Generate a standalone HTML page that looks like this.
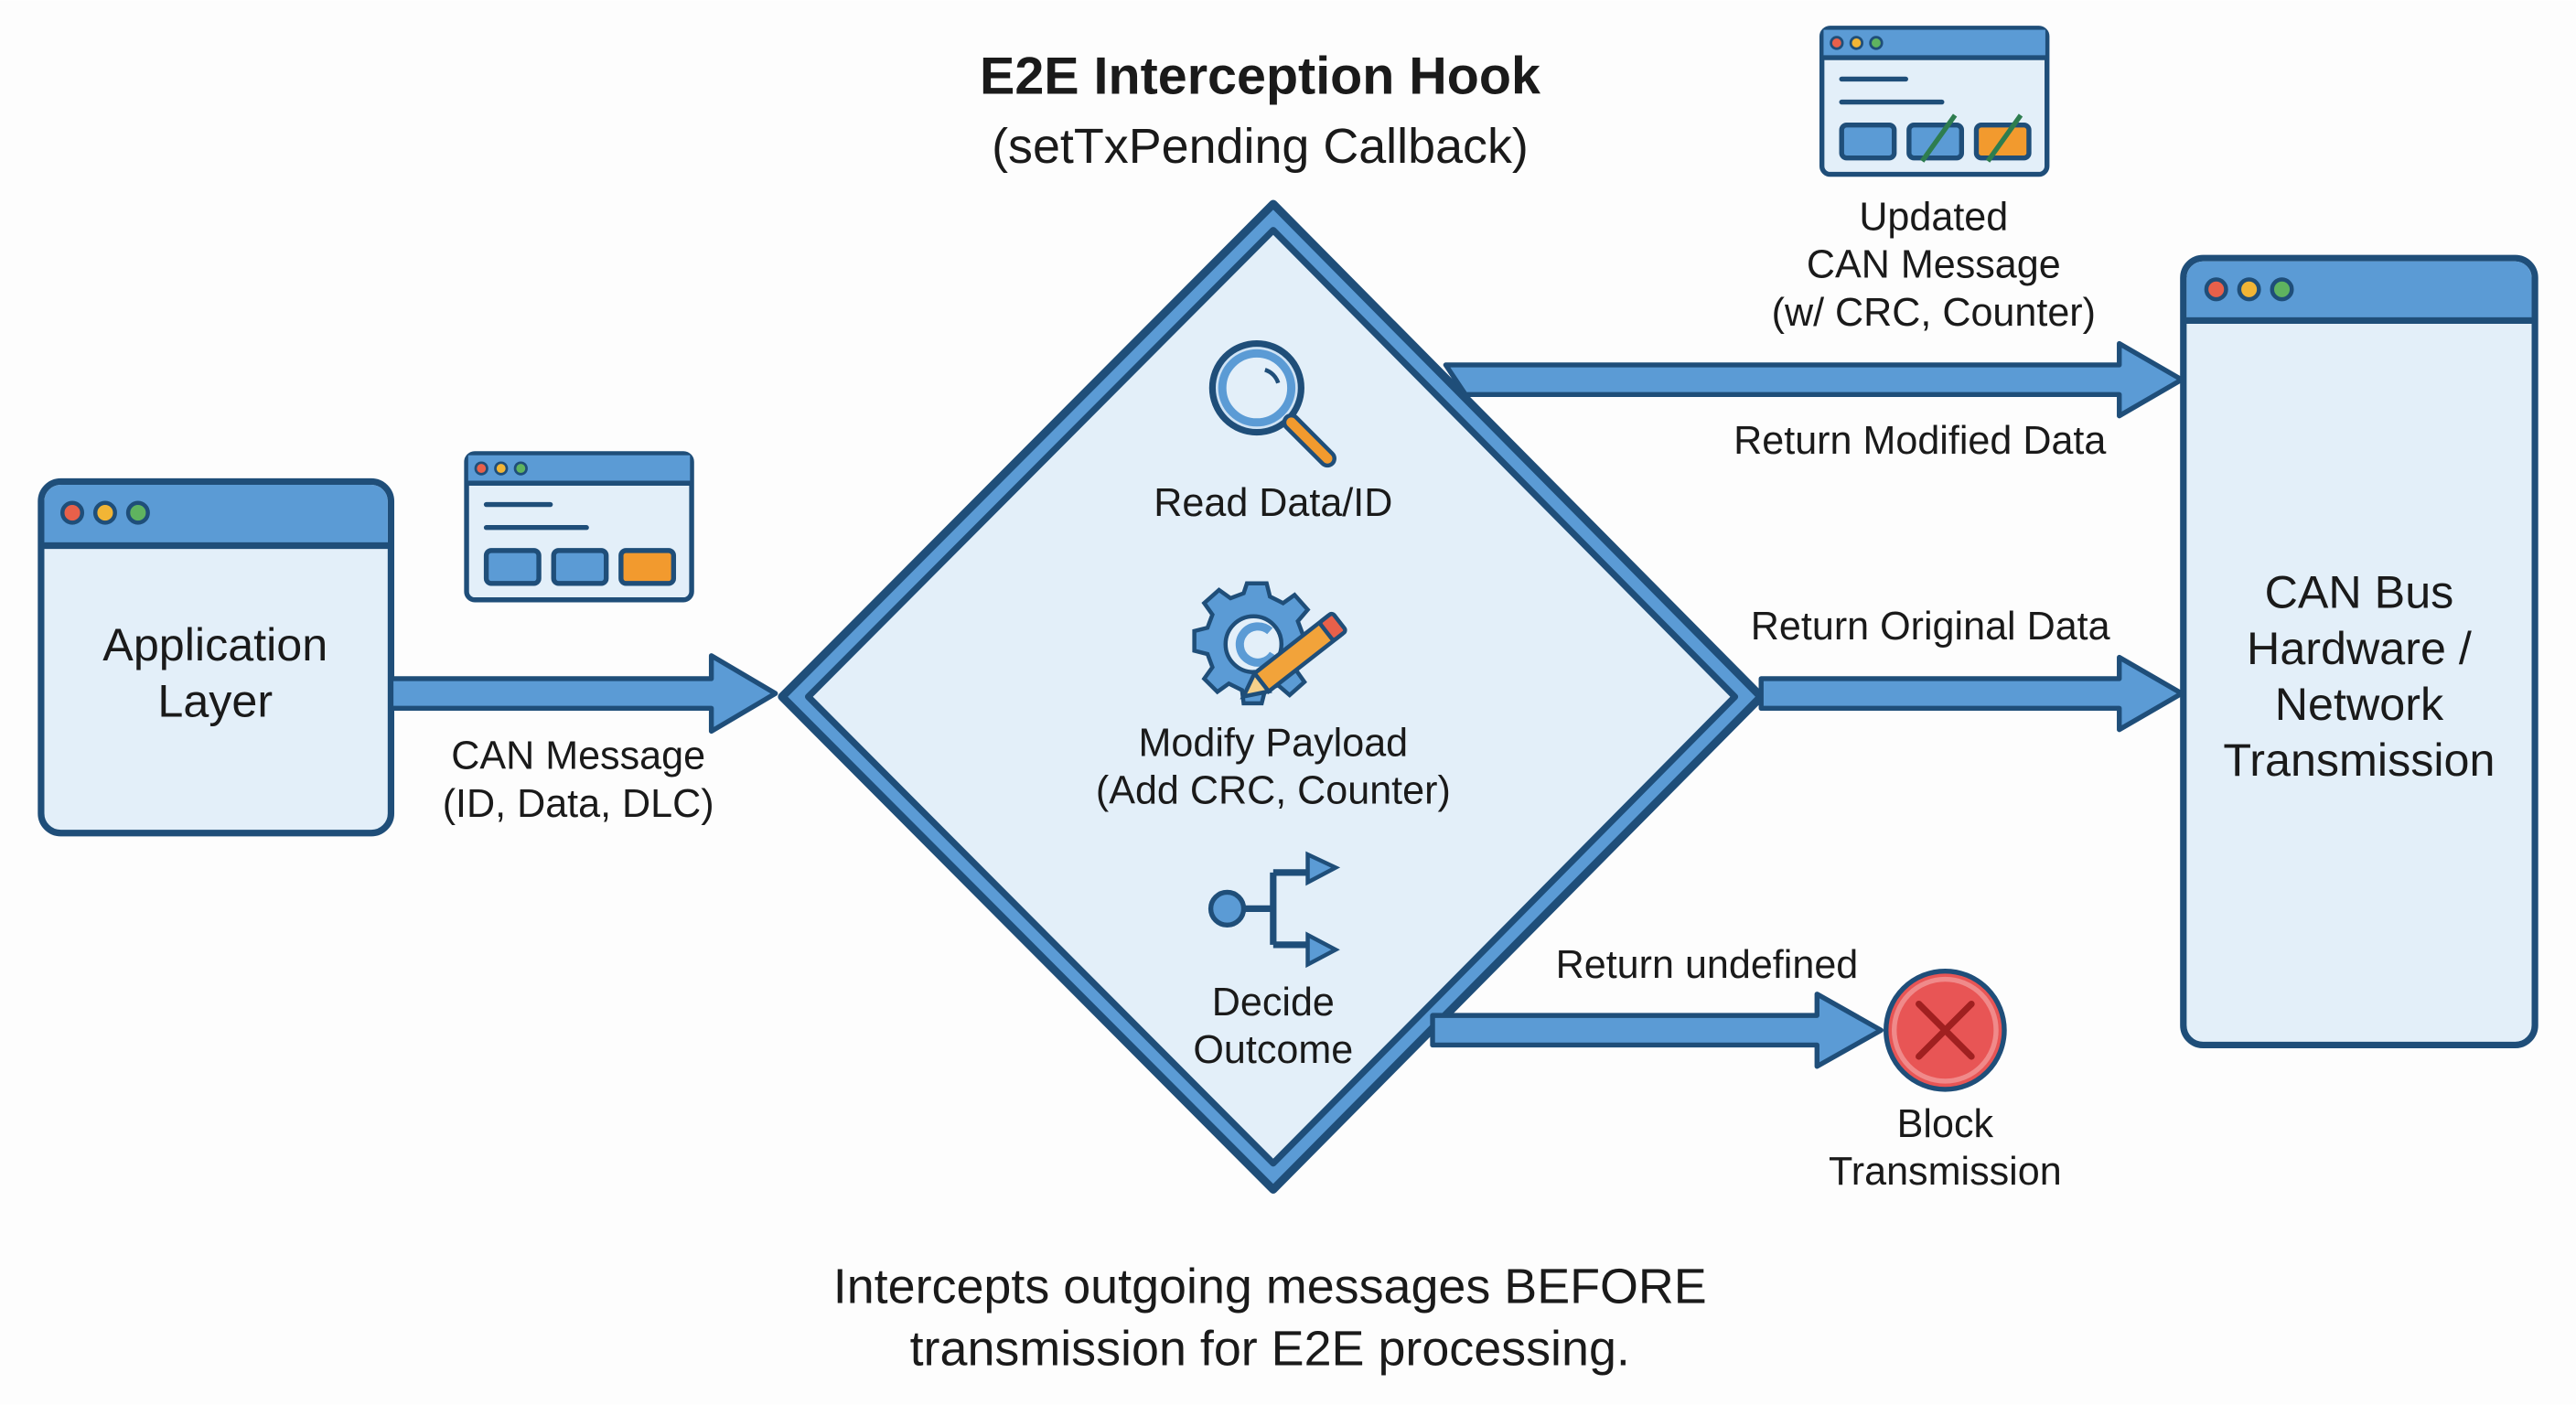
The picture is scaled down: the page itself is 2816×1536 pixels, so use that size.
<!DOCTYPE html>
<html><head><meta charset="utf-8"><style>
html,body{margin:0;padding:0;background:#fff;}
svg{display:block;}
text{font-family:"Liberation Sans",sans-serif;fill:#1a1a1a;}
</style></head><body>
<svg width="2816" height="1536" viewBox="0 0 1568 855" xmlns="http://www.w3.org/2000/svg">
<rect width="1568" height="855" fill="#fdfdfd"/>
<defs>
<g id="dots">
<circle cx="0" cy="0" r="6" fill="#e8604a" stroke="#1f4e79" stroke-width="2.5"/>
<circle cx="20" cy="0" r="6" fill="#f2b535" stroke="#1f4e79" stroke-width="2.5"/>
<circle cx="40" cy="0" r="6" fill="#5fb35f" stroke="#1f4e79" stroke-width="2.5"/>
</g>
</defs>
<!-- Title -->
<text x="767" y="57" font-size="32" font-weight="bold" text-anchor="middle">E2E Interception Hook</text>
<text x="767" y="99" font-size="30" text-anchor="middle">(setTxPending Callback)</text>

<!-- Application Layer box -->
<rect x="25" y="293" width="213" height="214" rx="12" fill="#e3eff9" stroke="#1f4e79" stroke-width="4"/>
<path d="M27 332 V305 a10 10 0 0 1 10 -10 H226 a10 10 0 0 1 10 10 V332 Z" fill="#5b9bd5"/>
<line x1="25" y1="332" x2="238" y2="332" stroke="#1f4e79" stroke-width="4"/>
<use href="#dots" x="44" y="312"/>
<text x="131" y="402" font-size="28" text-anchor="middle">Application</text>
<text x="131" y="436" font-size="28" text-anchor="middle">Layer</text>

<!-- small message icon -->
<rect x="284" y="276" width="137" height="89" rx="5" fill="#e3eff9" stroke="#1f4e79" stroke-width="3"/>
<rect x="285" y="277" width="135" height="17" fill="#5b9bd5"/>
<line x1="284" y1="294" x2="421" y2="294" stroke="#1f4e79" stroke-width="3"/>
<circle cx="293" cy="285" r="3.5" fill="#e8604a" stroke="#1f4e79" stroke-width="1.5"/>
<circle cx="305" cy="285" r="3.5" fill="#f2b535" stroke="#1f4e79" stroke-width="1.5"/>
<circle cx="317" cy="285" r="3.5" fill="#5fb35f" stroke="#1f4e79" stroke-width="1.5"/>
<line x1="296" y1="307" x2="335" y2="307" stroke="#1f4e79" stroke-width="3" stroke-linecap="round"/>
<line x1="296" y1="321" x2="357" y2="321" stroke="#1f4e79" stroke-width="3" stroke-linecap="round"/>
<rect x="296" y="335" width="32" height="20" rx="3" fill="#5b9bd5" stroke="#1f4e79" stroke-width="3"/>
<rect x="337" y="335" width="32" height="20" rx="3" fill="#5b9bd5" stroke="#1f4e79" stroke-width="3"/>
<rect x="378" y="335" width="32" height="20" rx="3" fill="#f29a2e" stroke="#1f4e79" stroke-width="3"/>

<!-- arrow in -->
<polygon points="238,413 433,413 433,399 472,422 433,445 433,431 238,431" fill="#5b9bd5" stroke="#1f4e79" stroke-width="3" stroke-linejoin="round"/>
<text x="352" y="468" font-size="24" text-anchor="middle">CAN Message</text>
<text x="352" y="497" font-size="24" text-anchor="middle">(ID, Data, DLC)</text>

<!-- Diamond -->
<path d="M775 124 L1072 424 L775 724 L476 424 Z" fill="#5b9bd5" stroke="#1f4e79" stroke-width="5" stroke-linejoin="round"/>
<path d="M775 140 L1056 424 L775 708 L492 424 Z" fill="#e3eff9" stroke="#1f4e79" stroke-width="4" stroke-linejoin="round"/>

<!-- magnifier -->
<circle cx="765" cy="236" r="27" fill="#cfe3f5" stroke="#1f4e79" stroke-width="4"/>
<circle cx="765" cy="236" r="21" fill="#e3eff9" stroke="#5b9bd5" stroke-width="5"/>
<path d="M770 225 a12 12 0 0 1 8 8" fill="none" stroke="#1f4e79" stroke-width="2.5"/>
<line x1="786" y1="257" x2="808" y2="279" stroke="#1f4e79" stroke-width="11" stroke-linecap="round"/>
<line x1="786" y1="257" x2="808" y2="279" stroke="#f29a2e" stroke-width="6" stroke-linecap="round"/>
<text x="775" y="314" font-size="24" text-anchor="middle">Read Data/ID</text>

<!-- gear + pencil -->
<g transform="translate(765,388)">
<g fill="#5b9bd5" stroke="#1f4e79" stroke-width="2.5">
<path d="M-6,-33 H6 L8,-25 L16,-21 L23,-26 L31,-17 L25,-10 L28,-2 L35,0 V10 L27,12 L24,20 L29,27 L20,35 L13,29 L5,32 L3,40 H-8 L-9,32 L-17,28 L-24,33 L-32,25 L-27,18 L-30,10 L-38,8 V-4 L-30,-6 L-27,-14 L-32,-21 L-23,-29 L-16,-24 L-8,-27 Z"/>
</g>
<circle cx="-2" cy="4" r="17" fill="#e3eff9" stroke="#1f4e79" stroke-width="2.5"/>
<path d="M8 -4 a11 11 0 1 0 2 14" fill="none" stroke="#5b9bd5" stroke-width="5"/>
</g>
<g transform="translate(790,398) rotate(-38)">
<rect x="-28" y="-7" width="56" height="14" fill="#f2a33a" stroke="#1f4e79" stroke-width="2.5"/>
<rect x="22" y="-7" width="10" height="14" rx="2" fill="#e8604a" stroke="#1f4e79" stroke-width="2.5"/>
<polygon points="-28,-7 -42,0 -28,7" fill="#f5d08a" stroke="#1f4e79" stroke-width="2.5"/>
</g>
<text x="775" y="460" font-size="24" text-anchor="middle">Modify Payload</text>
<text x="775" y="489" font-size="24" text-anchor="middle">(Add CRC, Counter)</text>

<!-- branch icon -->
<circle cx="747" cy="553" r="10" fill="#5b9bd5" stroke="#1f4e79" stroke-width="3"/>
<path d="M757 553 H775 M775 531 V575 M775 531 a0 0 0 0 1 0 0 H797 M775 575 H797" fill="none" stroke="#1f4e79" stroke-width="4"/>
<polygon points="796,520 813,528 796,537" fill="#5b9bd5" stroke="#1f4e79" stroke-width="2.5"/>
<polygon points="796,569 813,578 796,587" fill="#5b9bd5" stroke="#1f4e79" stroke-width="2.5"/>
<text x="775" y="618" font-size="24" text-anchor="middle">Decide</text>
<text x="775" y="647" font-size="24" text-anchor="middle">Outcome</text>

<!-- top arrow -->
<polygon points="880,222 1290,222 1290,209 1328,231 1290,253 1290,240 892,240" fill="#5b9bd5" stroke="#1f4e79" stroke-width="3" stroke-linejoin="round"/>
<text x="1282" y="276" font-size="24" text-anchor="end">Return Modified Data</text>
<!-- updated icon -->
<rect x="1109" y="17" width="137" height="89" rx="5" fill="#e3eff9" stroke="#1f4e79" stroke-width="3"/>
<rect x="1110" y="18" width="135" height="17" fill="#5b9bd5"/>
<line x1="1109" y1="35" x2="1246" y2="35" stroke="#1f4e79" stroke-width="3"/>
<circle cx="1118" cy="26" r="3.5" fill="#e8604a" stroke="#1f4e79" stroke-width="1.5"/>
<circle cx="1130" cy="26" r="3.5" fill="#f2b535" stroke="#1f4e79" stroke-width="1.5"/>
<circle cx="1142" cy="26" r="3.5" fill="#5fb35f" stroke="#1f4e79" stroke-width="1.5"/>
<line x1="1121" y1="48" x2="1160" y2="48" stroke="#1f4e79" stroke-width="3" stroke-linecap="round"/>
<line x1="1121" y1="62" x2="1182" y2="62" stroke="#1f4e79" stroke-width="3" stroke-linecap="round"/>
<rect x="1121" y="76" width="32" height="20" rx="3" fill="#5b9bd5" stroke="#1f4e79" stroke-width="3"/>
<rect x="1162" y="76" width="32" height="20" rx="3" fill="#5b9bd5" stroke="#1f4e79" stroke-width="3"/>
<rect x="1203" y="76" width="32" height="20" rx="3" fill="#f29a2e" stroke="#1f4e79" stroke-width="3"/>
<line x1="1170" y1="98" x2="1190" y2="70" stroke="#2e7d4f" stroke-width="3"/>
<line x1="1210" y1="98" x2="1230" y2="70" stroke="#2e7d4f" stroke-width="3"/>
<text x="1177" y="140" font-size="24" text-anchor="middle">Updated</text>
<text x="1177" y="169" font-size="24" text-anchor="middle">CAN Message</text>
<text x="1177" y="198" font-size="24" text-anchor="middle">(w/ CRC, Counter)</text>

<!-- middle arrow -->
<polygon points="1072,413 1290,413 1290,400 1328,422 1290,444 1290,431 1072,431" fill="#5b9bd5" stroke="#1f4e79" stroke-width="3" stroke-linejoin="round"/>
<text x="1175" y="389" font-size="24" text-anchor="middle">Return Original Data</text>

<!-- bottom arrow -->
<polygon points="872,618 1106,618 1106,605 1145,627 1106,649 1106,636 872,636" fill="#5b9bd5" stroke="#1f4e79" stroke-width="3" stroke-linejoin="round"/>
<text x="1039" y="595" font-size="24" text-anchor="middle">Return undefined</text>
<circle cx="1184" cy="627" r="36" fill="#e85555" stroke="#1f4e79" stroke-width="3"/>
<circle cx="1184" cy="627" r="31" fill="none" stroke="#f08a8a" stroke-width="3"/>
<path d="M1168 611 L1200 643 M1200 611 L1168 643" stroke="#a02020" stroke-width="4" stroke-linecap="round"/>
<text x="1184" y="692" font-size="24" text-anchor="middle">Block</text>
<text x="1184" y="721" font-size="24" text-anchor="middle">Transmission</text>

<!-- CAN bus box -->
<rect x="1329" y="157" width="214" height="479" rx="12" fill="#e3eff9" stroke="#1f4e79" stroke-width="4"/>
<path d="M1331 195 V169 a10 10 0 0 1 10 -10 H1531 a10 10 0 0 1 10 10 V195 Z" fill="#5b9bd5"/>
<line x1="1329" y1="195" x2="1543" y2="195" stroke="#1f4e79" stroke-width="4"/>
<use href="#dots" x="1349" y="176"/>
<text x="1436" y="370" font-size="28" text-anchor="middle">CAN Bus</text>
<text x="1436" y="404" font-size="28" text-anchor="middle">Hardware /</text>
<text x="1436" y="438" font-size="28" text-anchor="middle">Network</text>
<text x="1436" y="472" font-size="28" text-anchor="middle">Transmission</text>

<!-- caption -->
<text x="773" y="793" font-size="30" text-anchor="middle">Intercepts outgoing messages BEFORE</text>
<text x="773" y="831" font-size="30" text-anchor="middle">transmission for E2E processing.</text>
</svg>
</body></html>
